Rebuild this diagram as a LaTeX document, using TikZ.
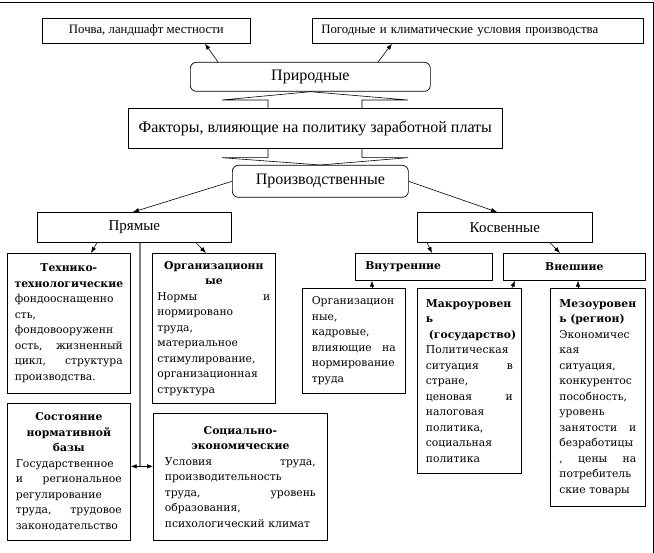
\documentclass[tikz,border=0pt]{standalone}
\usepackage{fontspec}
\setmainfont{Liberation Serif}
\newfontfamily\wideserif{DejaVu Serif}
\usetikzlibrary{arrows.meta, positioning, calc}

\newcommand{\head}[1]{\makebox[\hsize][c]{\bfseries #1}}
\newcommand{\spread}[2]{\makebox[\hsize][l]{#1\hfill #2}}

\begin{document}
\begin{tikzpicture}[x=1pt, y=-1pt,
    box/.style={draw, rectangle, anchor=north west, inner sep=0pt, line width=0.7pt},
    smallbox/.style={box, font=\fontsize{12.8}{14}\selectfont},
    midbox/.style={box, align=center, font=\fontsize{15}{17}\selectfont},
    rbox/.style={midbox, rounded corners=6pt},
    card/.style={box, align=left, font=\wideserif\fontsize{10.8}{15.5}\selectfont},
    arr/.style={-{Latex[length=6pt, width=4.5pt]}, line width=0.6pt},
    dbl/.style={{Latex[length=6pt, width=4.5pt]}-{Latex[length=6pt, width=4.5pt]}, line width=0.6pt},
]
\useasboundingbox (0,0) rectangle (654,553);
\draw[line width=0.8pt] (0,2) -- (653,2) -- (653,553);

\node[smallbox, minimum width=208pt, minimum height=25pt] (soil) at (42,18) {Почва, ландшафт местности};
\node[smallbox, minimum width=331pt, minimum height=25pt, text width=313pt, inner xsep=9pt, align=left] (weather) at (312,18) {Погодные и климатические условия производства};

\node[rbox, minimum width=240pt, minimum height=29pt, font=\fontsize{16}{18}\selectfont] (nat) at (190,62) {Природные};
\node[midbox, minimum width=374pt, minimum height=40pt, font=\fontsize{16}{18}\selectfont] (fac) at (128,108) {Факторы, влияющие на политику заработной платы};
\node[rbox, minimum width=176pt, minimum height=32pt, font=\fontsize{16}{18}\selectfont] (prod) at (232,165) {Производственные};
\node[midbox, minimum width=194pt, minimum height=30pt] (dir) at (37,212) {Прямые};
\node[midbox, minimum width=175pt, minimum height=30pt] (ind) at (417,212) {Косвенные};

\node[card, minimum width=137pt, minimum height=27pt, text width=117pt, inner xsep=10pt] (int) at (355,253) {\bfseries Внутренние};
\node[card, minimum width=142pt, minimum height=27pt, align=center] (ext) at (503,253) {\bfseries Внешние};

\node[card, minimum height=140pt, text width=108pt, inner xsep=7.5pt] (tech) at (7,253) {\head{Технико-}\\ \head{технологические}\\ фондооснащенно\\ сть,\\ фондовооруженн\\ \spread{ость,}{жизненный}\\ \spread{цикл,}{структура}\\ производства.};
\node[card, minimum height=150pt, text width=113pt, inner xsep=5pt] (org) at (152,253) {\head{Организационн}\\ \head{ые}\\ \spread{Нормы}{и}\\ нормировано\\ труда,\\ материальное\\ стимулирование,\\ организационная\\ структура};
\node[card, minimum height=137pt, text width=106pt, inner xsep=8.5pt] (norm) at (7,403) {\head{Состояние}\\ \head{нормативной}\\ \head{базы}\\ Государственное\\ \spread{и}{региональное}\\ регулирование\\ \spread{труда,}{трудовое}\\ законодательство};
\node[card, minimum height=127pt, text width=151pt, inner xsep=11.5pt] (soc) at (153,413) {\head{Социально-}\\ \head{экономические}\\ \spread{Условия}{труда,}\\ производительность\\ \spread{труда,}{уровень}\\ образования,\\ психологический климат};
\node[card, minimum height=105pt, text width=84pt, inner xsep=9.5pt] (intorg) at (302,288) {Организацион\\ ные,\\ кадровые,\\ \spread{влияющие}{на}\\ нормирование\\ труда};
\node[card, minimum height=185pt, text width=87pt, inner xsep=8.5pt] (macro) at (417,288) {\textbf{Макроуровен}\\ \textbf{ь}\\ \hspace*{3pt}\textbf{(государство)}\\ Политическая\\ \spread{ситуация}{в}\\ стране,\\ \spread{ценовая}{и}\\ налоговая\\ политика,\\ социальная\\ политика};
\node[card, minimum height=218pt, text width=77pt, inner xsep=9pt] (meso) at (550,288) {\textbf{Мезоуровен}\\ \textbf{ь (регион)}\\ Экономичес\\ кая\\ ситуация,\\ конкурентос\\ пособность,\\ уровень\\ \spread{занятости}{и}\\ безработицы\\ \makebox[\hsize][l]{,\hfill цены\hfill на}\\ потребитель\\ ские товары};

\draw[line width=0.6pt] (fac.north west) ++(140,0) -- ++(0,-8) -- ++(-46,0) -- (nat.south);
\draw[line width=0.6pt] (fac.north west) ++(234,0) -- ++(0,-8) -- ++(46,0) -- (nat.south);
\draw[line width=0.6pt] (fac.south west) ++(140,0) -- ++(0,9) -- ++(-46,0) -- (prod.north);
\draw[line width=0.6pt] (fac.south west) ++(234,0) -- ++(0,9) -- ++(46,0) -- (prod.north);

\draw[arr] ([xshift=28pt]nat.north west) -- ([xshift=163pt]soil.south west);
\draw[arr] ([xshift=188pt]nat.north west) -- ([xshift=80pt]weather.south west);
\draw[arr] (prod.west) -- ([xshift=96pt]dir.north west);
\draw[arr] (prod.east) -- ([xshift=80pt]ind.north west);

\draw[arr] ([xshift=60pt]dir.south west) -- ([xshift=84pt]tech.north west);
\draw[arr] ([xshift=159pt]dir.south west) -- ([xshift=54pt]org.north west);
\draw[arr] ([xshift=10pt]ind.south west) -- ([xshift=77pt]int.north west);
\draw[arr] ([xshift=133pt]ind.south west) -- ([xshift=57pt]ext.north west);

\draw[arr] ([xshift=70pt]intorg.north west) -- ([xshift=17pt]int.south west);
\draw[arr] ([xshift=95pt]macro.north west) -- ([xshift=12pt]ext.south west);
\draw[arr] ([xshift=28pt]meso.north west) -- ([xshift=75pt]ext.south west);

\coordinate (stem) at ([xshift=103pt]dir.south west);
\coordinate (mid) at ([yshift=5.5pt]norm.east);
\draw[gray, line width=1.2pt] (stem) -- (stem |- mid);
\draw[dbl] (mid) -- (mid -| soc.west);
\end{tikzpicture}
\end{document}
